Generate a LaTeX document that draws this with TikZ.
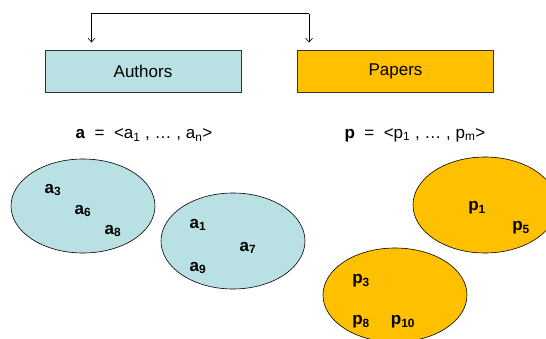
\documentclass[tikz,border=0pt]{standalone}
\usepackage{fontspec}
\setmainfont{Liberation Sans}
\usetikzlibrary{arrows.meta}
\definecolor{lblue}{HTML}{B9E0E3}
\definecolor{gold}{HTML}{FFC000}
\tikzset{
  box/.style={draw=black!80, line width=0.9pt, minimum width=196pt, minimum height=42pt, inner sep=0pt, font=\fontsize{17}{20}\selectfont},
  setA/.style={draw=black, line width=0.6pt, fill=lblue},
  setP/.style={draw=black, line width=0.6pt, fill=gold},
  lab/.style={font=\bfseries\fontsize{17}{20}\selectfont, inner sep=0pt},
  formula/.style={font=\fontsize{17}{20}\selectfont, inner sep=0pt},
  arr/.style={line width=0.6pt, -{Straight Barb[length=4pt,width=7pt]}}
}
\begin{document}
\begin{tikzpicture}[x=1pt,y=-1pt]
\useasboundingbox (0,0) rectangle (546,339);
\begin{scope}
\clip (0,0) rectangle (546,339);
% boxes
\node[box, fill=lblue] (A) at (143,71) {Authors};
\node[box, fill=gold] (P) at (395.5,71) {Papers};
% connector
\coordinate (pa) at ([shift={(12,-7)}]P.north west);
\coordinate (aa) at ([shift={(47,-7)}]A.north west);
\draw[arr] (pa) ++(0,-29) coordinate (pt) -| (aa);
\draw[arr] (pt) -- (pa);
% formulas
\node[formula] (fa) at (144,135) {\textbf{a} \ = \ <a\textsubscript{1} , … , a\textsubscript{n}>};
\node[formula] (fp) at (415,135) {\textbf{p} \ = \ <p\textsubscript{1} , … , p\textsubscript{m}>};
% author sets
\draw[setA] (83,206) ellipse [x radius=72, y radius=47];
\draw[setA] (233,241) ellipse [x radius=72, y radius=48];
% paper sets
\draw[setP] (485,205) ellipse [x radius=72, y radius=48];
\draw[setP] (395,295) ellipse [x radius=72, y radius=47];
% labels
\node[lab] (a3) at (53,190) {a\textsubscript{3}};
\node[lab] (a6) at (83,211) {a\textsubscript{6}};
\node[lab] (a8) at (113,231) {a\textsubscript{8}};
\node[lab] (a1) at (198,225) {a\textsubscript{1}};
\node[lab] (a7) at (248,248) {a\textsubscript{7}};
\node[lab] (a9) at (198,268) {a\textsubscript{9}};
\node[lab] (p1) at (477,208) {p\textsubscript{1}};
\node[lab] (p5) at (521,228) {p\textsubscript{5}};
\node[lab] (p3) at (361,281) {p\textsubscript{3}};
\node[lab] (p8) at (361,322) {p\textsubscript{8}};
\node[lab] (p10) at (403,322) {p\textsubscript{10}};
\end{scope}
\end{tikzpicture}
\end{document}
